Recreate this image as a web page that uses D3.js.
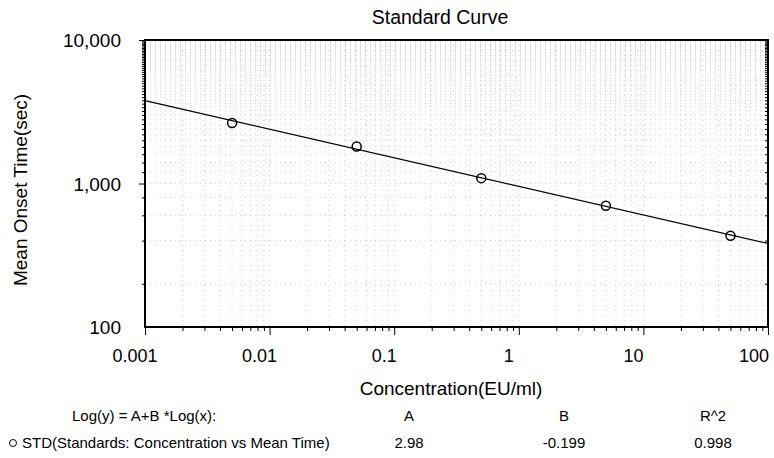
<!DOCTYPE html>
<html lang="en">
<head>
<meta charset="UTF-8">
<title>Standard Curve</title>
<script src="https://d3js.org/d3.v7.min.js"></script>
<style>
    body {
        margin: 0;
        padding: 0;
        background: #fff;
    }
    svg {
        display: block;
        font-family: "Liberation Sans", Arial, Helvetica, sans-serif;
    }
    .grid line {
        stroke: #bdbdbd;
        stroke-width: 0.7;
        stroke-dasharray: 1 4;
    }
</style>
</head>
<body>
<svg width="774" height="458"></svg>
<script>
    // standards: concentration (EU/ml) vs mean onset time (sec)
    const concentration = [0.005, 0.05, 0.5, 5, 50];
    const meanTime = [2640, 1810, 1090, 700, 432];

    // regression Log(y) = A + B*Log(x)
    const fitLabels = ["A", "B", "R^2"];
    const fitValues = ["2.98", "-0.199", "0.998"];
    const fitA = 2.98;
    const fitB = -0.199;

    const xTicks = [0.001, 0.01, 0.1, 1, 10, 100];
    const xTickLabels = ["0.001", "0.01", "0.1", "1", "10", "100"];
    const yTicks = [100, 1000, 10000];
    const yTickLabels = ["100", "1,000", "10,000"];

    const margin = { top: 40, right: 6, bottom: 131, left: 145 };
    const width = 774 - margin.left - margin.right;
    const height = 458 - margin.top - margin.bottom;

    const svg = d3.select("svg");
    const g = svg.append("g")
        .attr("transform", `translate(${margin.left},${margin.top})`);

    const x = d3.scaleLog().domain([0.001, 100]).range([0, width]);
    const y = d3.scaleLog().domain([100, 10000]).range([height, 0]);

    // all log ticks (1..9 per decade)
    const xAll = x.ticks(50);
    const yAll = y.ticks(50);

    // dotted grid
    const grid = g.append("g").attr("class", "grid");
    grid.selectAll(".vx")
        .data(xAll.filter(d => d > 0.001 && d < 100))
        .enter()
        .append("line")
        .attr("x1", d => x(d)).attr("x2", d => x(d))
        .attr("y1", 0).attr("y2", height);
    grid.selectAll(".hy")
        .data(yAll.filter(d => d > 100 && d < 10000))
        .enter()
        .append("line")
        .attr("x1", 0).attr("x2", width)
        .attr("y1", d => y(d)).attr("y2", d => y(d));

    // minor / major ticks
    const isMajor = d => Math.abs(Math.log10(d) - Math.round(Math.log10(d))) < 1e-9;

    g.append("g")
        .attr("transform", `translate(0,${height})`)
        .call(d3.axisBottom(x).tickValues(xAll).tickFormat("").tickSizeOuter(0))
        .call(a => a.select(".domain").remove())
        .call(a => a.selectAll(".tick line")
            .attr("stroke", "#000")
            .attr("y2", d => isMajor(d) ? 8 : 4));

    g.append("g")
        .call(d3.axisLeft(y).tickValues(yAll).tickFormat("").tickSizeOuter(0))
        .call(a => a.select(".domain").remove())
        .call(a => a.selectAll(".tick line")
            .attr("stroke", "#000")
            .attr("x2", d => isMajor(d) ? -6 : -3));

    g.append("g")
        .attr("transform", `translate(${width},0)`)
        .call(d3.axisLeft(y).tickValues(yAll).tickFormat("").tickSizeOuter(0))
        .call(a => a.select(".domain").remove())
        .call(a => a.selectAll(".tick line")
            .attr("stroke", "#000")
            .attr("x2", -3));

    // frame
    g.append("rect")
        .attr("width", width)
        .attr("height", height)
        .attr("fill", "none")
        .attr("stroke", "#000")
        .attr("stroke-width", 2);

    // tick labels (sit a bit left of their ticks, as in the original)
    g.selectAll(".xlab")
        .data(xTicks)
        .enter()
        .append("text")
        .attr("x", (d, i) => x(d) - (i === xTicks.length - 1 ? 14 : 10))
        .attr("y", height + 35)
        .attr("text-anchor", "middle")
        .attr("font-size", 18)
        .text((d, i) => xTickLabels[i]);

    g.selectAll(".ylab")
        .data(yTicks)
        .enter()
        .append("text")
        .attr("x", -24)
        .attr("y", d => y(d) + 7)
        .attr("text-anchor", "end")
        .attr("font-size", 19)
        .text((d, i) => yTickLabels[i]);

    // fitted line from A and B
    const fitLine = x.domain().map(c => ({ c: c, t: Math.pow(10, fitA + fitB * Math.log10(c)) }));
    g.append("path")
        .datum(fitLine)
        .attr("fill", "none")
        .attr("stroke", "#000")
        .attr("stroke-width", 1.3)
        .attr("d", d3.line().x(d => x(d.c)).y(d => y(d.t)));

    // standards
    const pts = concentration.map((c, i) => ({ c: c, t: meanTime[i] }));
    g.selectAll(".pt")
        .data(pts)
        .enter()
        .append("circle")
        .attr("cx", d => x(d.c))
        .attr("cy", d => y(d.t))
        .attr("r", 4.5)
        .attr("fill", "none")
        .attr("stroke", "#000")
        .attr("stroke-width", 1.5);

    // titles
    svg.append("text")
        .attr("x", 440)
        .attr("y", 24)
        .attr("text-anchor", "middle")
        .attr("font-size", 19.5)
        .text("Standard Curve");

    svg.append("text")
        .attr("transform", "translate(27,190) rotate(-90)")
        .attr("text-anchor", "middle")
        .attr("font-size", 19)
        .text("Mean Onset Time(sec)");

    svg.append("text")
        .attr("x", 451)
        .attr("y", 395)
        .attr("text-anchor", "middle")
        .attr("font-size", 19)
        .text("Concentration(EU/ml)");

    // regression table
    const colX = [409, 564, 713];
    svg.append("text")
        .attr("x", 72)
        .attr("y", 421)
        .attr("font-size", 15)
        .text("Log(y) = A+B *Log(x):");
    svg.selectAll(".fh")
        .data(fitLabels)
        .enter()
        .append("text")
        .attr("x", (d, i) => colX[i])
        .attr("y", 421)
        .attr("text-anchor", "middle")
        .attr("font-size", 15)
        .text(d => d);

    svg.append("circle")
        .attr("cx", 13)
        .attr("cy", 443)
        .attr("r", 3.5)
        .attr("fill", "none")
        .attr("stroke", "#000")
        .attr("stroke-width", 1);
    svg.append("text")
        .attr("x", 22)
        .attr("y", 448)
        .attr("font-size", 15)
        .text("STD(Standards: Concentration vs Mean Time)");
    svg.selectAll(".fv")
        .data(fitValues)
        .enter()
        .append("text")
        .attr("x", (d, i) => colX[i])
        .attr("y", 448)
        .attr("text-anchor", "middle")
        .attr("font-size", 15)
        .text(d => d);
</script>
</body>
</html>
